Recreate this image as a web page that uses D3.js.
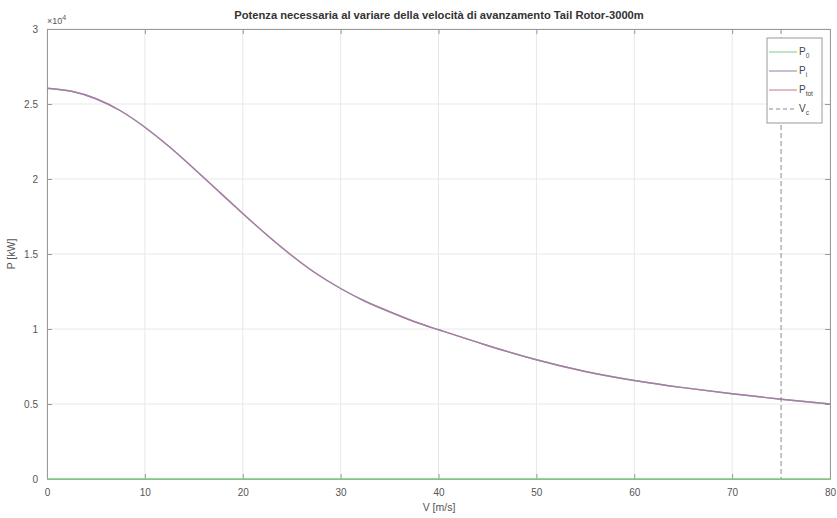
<!DOCTYPE html>
<html>
<head>
<meta charset="utf-8">
<script src="https://cdn.jsdelivr.net/npm/d3@7"></script>
<style>
  body { margin: 0; background: #fff; }
  svg { font-family: "Liberation Sans", Arial, sans-serif; }
</style>
</head>
<body>
<svg id="chart" width="837" height="518"></svg>
<script>
// velocity samples [m/s]
var speeds = [0, 2.5, 5, 7.5, 10, 12.5, 15, 17.5, 20, 22.5, 25, 27.5, 30, 32.5, 35, 37.5, 40, 45, 50, 55, 60, 65, 70, 75, 80];
// power values [kW]
var p0Values = [0, 0, 0, 0, 0, 0, 0, 0, 0, 0, 0, 0, 0, 0, 0, 0, 0, 0, 0, 0, 0, 0, 0, 0, 0];
var piValues = [26050, 25850, 25350, 24550, 23450, 22150, 20700, 19200, 17700, 16250, 14900, 13700, 12700, 11850, 11150, 10500, 9950, 8900, 7950, 7170, 6570, 6090, 5680, 5320, 5000];
var ptotValues = [26050, 25850, 25350, 24550, 23450, 22150, 20700, 19200, 17700, 16250, 14900, 13700, 12700, 11850, 11150, 10500, 9950, 8900, 7950, 7170, 6570, 6090, 5680, 5320, 5000];
var vc = 75;
var xTicks = [0, 10, 20, 30, 40, 50, 60, 70, 80];
var yTicks = [0, 5000, 10000, 15000, 20000, 25000, 30000];

const margin = { top: 29, right: 7, bottom: 39, left: 47 },
  width = 837 - margin.left - margin.right,
  height = 518 - margin.top - margin.bottom;

var svg = d3.select("#chart");
var g = svg.append("g").attr("transform", `translate(${margin.left},${margin.top})`);

const x = d3.scaleLinear().domain([0, 80]).range([0, width]);
const y = d3.scaleLinear().domain([0, 30000]).range([height, 0]);

// grid
g.selectAll(".vgrid").data(xTicks).join("line")
  .attr("x1", d => x(d)).attr("x2", d => x(d))
  .attr("y1", 0).attr("y2", height)
  .attr("stroke", "#e8e8e8").attr("stroke-width", 1);
g.selectAll(".hgrid").data(yTicks).join("line")
  .attr("x1", 0).attr("x2", width)
  .attr("y1", d => y(d)).attr("y2", d => y(d))
  .attr("stroke", "#e8e8e8").attr("stroke-width", 1);

// axes (MATLAB style, ticks inside, box on)
var axisColor = "#9a9a9a";
var xAxis = g.append("g").attr("transform", `translate(0,${height})`)
  .call(d3.axisBottom(x).tickValues(xTicks).tickSizeInner(-5).tickSizeOuter(0).tickPadding(10));
var yAxis = g.append("g")
  .call(d3.axisLeft(y).tickValues(yTicks).tickFormat(d => d / 10000).tickSizeInner(-5).tickSizeOuter(0).tickPadding(9));
var xTop = g.append("g")
  .call(d3.axisTop(x).tickValues(xTicks).tickSizeInner(-5).tickSizeOuter(0).tickFormat(""));
var yRight = g.append("g").attr("transform", `translate(${width},0)`)
  .call(d3.axisRight(y).tickValues(yTicks).tickSizeInner(-5).tickSizeOuter(0).tickFormat(""));
[xAxis, yAxis, xTop, yRight].forEach(function (a) {
  a.select(".domain").attr("stroke", axisColor);
  a.selectAll(".tick line").attr("stroke", axisColor);
  a.selectAll(".tick text").attr("fill", "#555").style("font-size", "10px");
});

var line = d3.line().curve(d3.curveNatural);
function pts(vals) { return speeds.map((s, i) => [x(s), y(vals[i])]); }

// Vc dashed
g.append("line")
  .attr("x1", x(vc)).attr("x2", x(vc)).attr("y1", 0).attr("y2", height)
  .attr("stroke", "#8a8a8a").attr("stroke-dasharray", "5,3").attr("stroke-width", 1);

// series
g.append("path").attr("d", line(pts(piValues)))
  .attr("fill", "none").attr("stroke", "#8a84b0").attr("stroke-width", 1.4);
g.append("path").attr("d", line(pts(ptotValues)))
  .attr("fill", "none").attr("stroke", "#b07c98").attr("stroke-width", 1.4).attr("opacity", 0.7);
g.append("path").attr("d", line(pts(p0Values)))
  .attr("fill", "none").attr("stroke", "#7fcf7f").attr("stroke-width", 1.6);

// title
svg.append("text").attr("x", 439).attr("y", 19).attr("text-anchor", "middle")
  .style("font-size", "11.2px").style("font-weight", "bold").attr("fill", "#333")
  .text("Potenza necessaria al variare della velocità di avanzamento Tail Rotor-3000m");

// exponent
var ex = svg.append("text").attr("x", 47).attr("y", 24).attr("fill", "#555").style("font-size", "9px");
ex.append("tspan").text("×10");
ex.append("tspan").attr("dy", -4).style("font-size", "7px").text("4");

// axis labels
svg.append("text").attr("x", 439).attr("y", 511).attr("text-anchor", "middle")
  .attr("fill", "#555").style("font-size", "10.5px").text("V [m/s]");
svg.append("text").attr("transform", "translate(15,254) rotate(-90)").attr("text-anchor", "middle")
  .attr("fill", "#555").style("font-size", "10.5px").text("P [kW]");

// legend
var lg = svg.append("g").attr("transform", "translate(767,38)");
lg.append("rect").attr("width", 55).attr("height", 85).attr("fill", "#fff").attr("stroke", "#9a9a9a");
var entries = [
  { main: "P", sub: "0", color: "#7fcf7f", dash: null },
  { main: "P", sub: "i", color: "#8a84b0", dash: null },
  { main: "P", sub: "tot", color: "#c07a8a", dash: null },
  { main: "V", sub: "c", color: "#8a8a8a", dash: "4,3" }
];
entries.forEach(function (e, i) {
  var yy = 14 + i * 19;
  lg.append("line").attr("x1", 2).attr("x2", 30).attr("y1", yy).attr("y2", yy)
    .attr("stroke", e.color).attr("stroke-width", 1).attr("stroke-dasharray", e.dash);
  var t = lg.append("text").attr("x", 32).attr("y", yy + 3).attr("fill", "#444").style("font-size", "10px");
  t.append("tspan").text(e.main);
  t.append("tspan").attr("dy", 3).style("font-size", "6.5px").text(e.sub);
});
</script>
</body>
</html>
